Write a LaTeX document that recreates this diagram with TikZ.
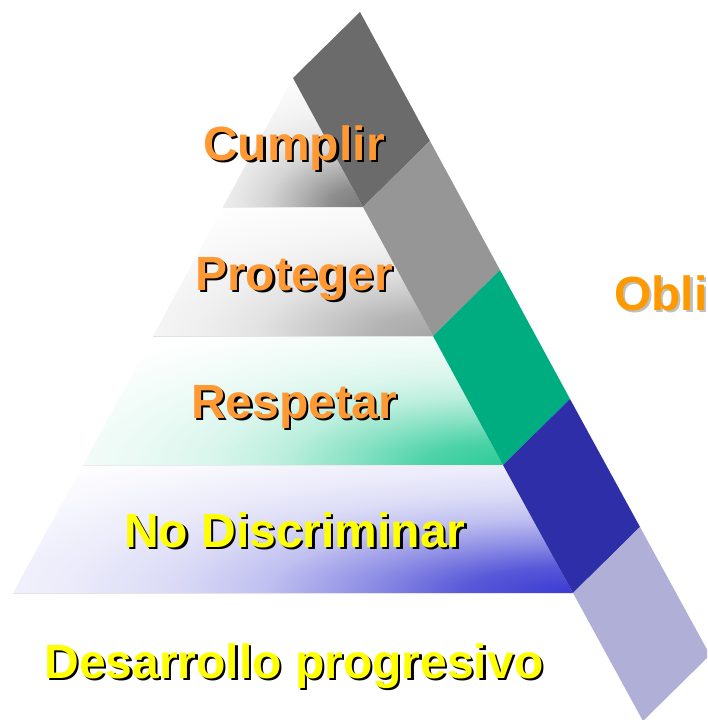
\documentclass[tikz,border=0pt]{standalone}
\usepackage{fontspec}
\setmainfont{Liberation Sans}
\definecolor{sgA}{HTML}{6B6B6B}
\definecolor{sgB}{HTML}{969696}
\definecolor{sgC}{HTML}{00AD80}
\definecolor{sgD}{HTML}{2E2EA8}
\definecolor{sgE}{HTML}{AFAFD8}
\definecolor{txo}{HTML}{FF9933}
\definecolor{txob}{HTML}{FF9900}
\definecolor{txy}{HTML}{FFFF00}
\definecolor{bcA}{HTML}{7A7A7A}
\definecolor{bcB}{HTML}{A6A6A6}
\definecolor{bcC}{HTML}{2DCB97}
\definecolor{bcD}{HTML}{3A3AD2}
\newcommand{\declfade}[2]{\pgfdeclareradialshading{#1}{\pgfpoint{0bp}{0bp}}{color(0bp)=(#2); color(3.8bp)=(#2!85!white); color(7.3bp)=(#2!57!white); color(10.8bp)=(#2!32!white); color(14.2bp)=(#2!18!white); color(17.7bp)=(#2!10!white); color(21bp)=(#2!5!white); color(25bp)=(white); color(50bp)=(white)}}
\declfade{fadeA}{bcA}
\declfade{fadeB}{bcB}
\declfade{fadeC}{bcC}
\declfade{fadeD}{bcD}
\newcommand{\shtext}[2]{\rlap{\kern2.2pt\raisebox{-2.2pt}{\color{#1}#2}}#2}
\tikzset{
  lbl/.style={font=\fontsize{48}{58}\selectfont\bfseries, inner sep=0pt, anchor=base},
  sepline/.style={line width=0.9pt},
}
\begin{document}
\begin{tikzpicture}[x=1pt,y=-1pt]
\useasboundingbox (0,0) rectangle (707,720);
\clip (0,0) rectangle (707,720);
% strip left edge points
\coordinate (L0) at (293,78);
\coordinate (L1) at (363,207);
\coordinate (L2) at (433,336);
\coordinate (L3) at (503,465);
\coordinate (L4) at (573,593);
\coordinate (L5) at (643,721);
% strip right edge points
\coordinate (R0) at (360,12);
\coordinate (R1) at (430,141);
\coordinate (R2) at (500,270);
\coordinate (R3) at (570,399);
\coordinate (R4) at (640,527);
\coordinate (R5) at (710,655);
% pyramid left edge points
\coordinate (P1) at (223,207);
\coordinate (P2) at (153,336);
\coordinate (P3) at (83,465);
\coordinate (P4) at (13,593);
% bands
\begin{scope}
  \clip (L0) -- (P1) -- (L1) -- cycle;
  \shade[shading=fadeA] (362,207) ellipse (220 and 140);
\end{scope}
\begin{scope}
  \clip (P1) -- (P2) -- (L2) -- (L1) -- cycle;
  \shade[shading=fadeB] (435,336) ellipse (415 and 155);
\end{scope}
\begin{scope}
  \clip (P2) -- (P3) -- (L3) -- (L2) -- cycle;
  \shade[shading=fadeC] (505,465) ellipse (520 and 160);
\end{scope}
\begin{scope}
  \clip (P3) -- (P4) -- (L4) -- (L3) -- cycle;
  \shade[shading=fadeD] (575,593) ellipse (720 and 175);
\end{scope}
% separator lines
\draw[sepline, color=black!8] (P1) -- (L1);
\draw[sepline, color=teal!15!black!12] (P2) -- (L2);
\draw[sepline, color=black!8] (P3) -- (L3);
\draw[sepline, color=blue!10!black!10] (P4) -- (L4);
% diagonal strip
\fill[sgA] (L0) -- (L1) -- (R1) -- (R0) -- cycle;
\fill[sgB] (L1) -- (L2) -- (R2) -- (R1) -- cycle;
\fill[sgC] (L2) -- (L3) -- (R3) -- (R2) -- cycle;
\fill[sgD] (L3) -- (L4) -- (R4) -- (R3) -- cycle;
\fill[sgE] (L4) -- (L5) -- (R5) -- (R4) -- cycle;
% labels
\node[lbl, text=txo] (cumplir) at (294,160) {\shtext{black}{Cumplir}};
\node[lbl, text=txo] (proteger) at (294,290) {\shtext{black}{Proteger}};
\node[lbl, text=txo] (respetar) at (294,418) {\shtext{black}{Respetar}};
\node[lbl, text=txy] (nodisc) at (295,547) {\shtext{black}{No Discriminar}};
\node[lbl, text=txy] (desarrollo) at (294,678) {\shtext{black}{Desarrollo progresivo}};
\node[lbl, anchor=base west, text=txob] (obli) at (614,310) {\shtext{black!25}{Obli}};
\end{tikzpicture}
\end{document}
